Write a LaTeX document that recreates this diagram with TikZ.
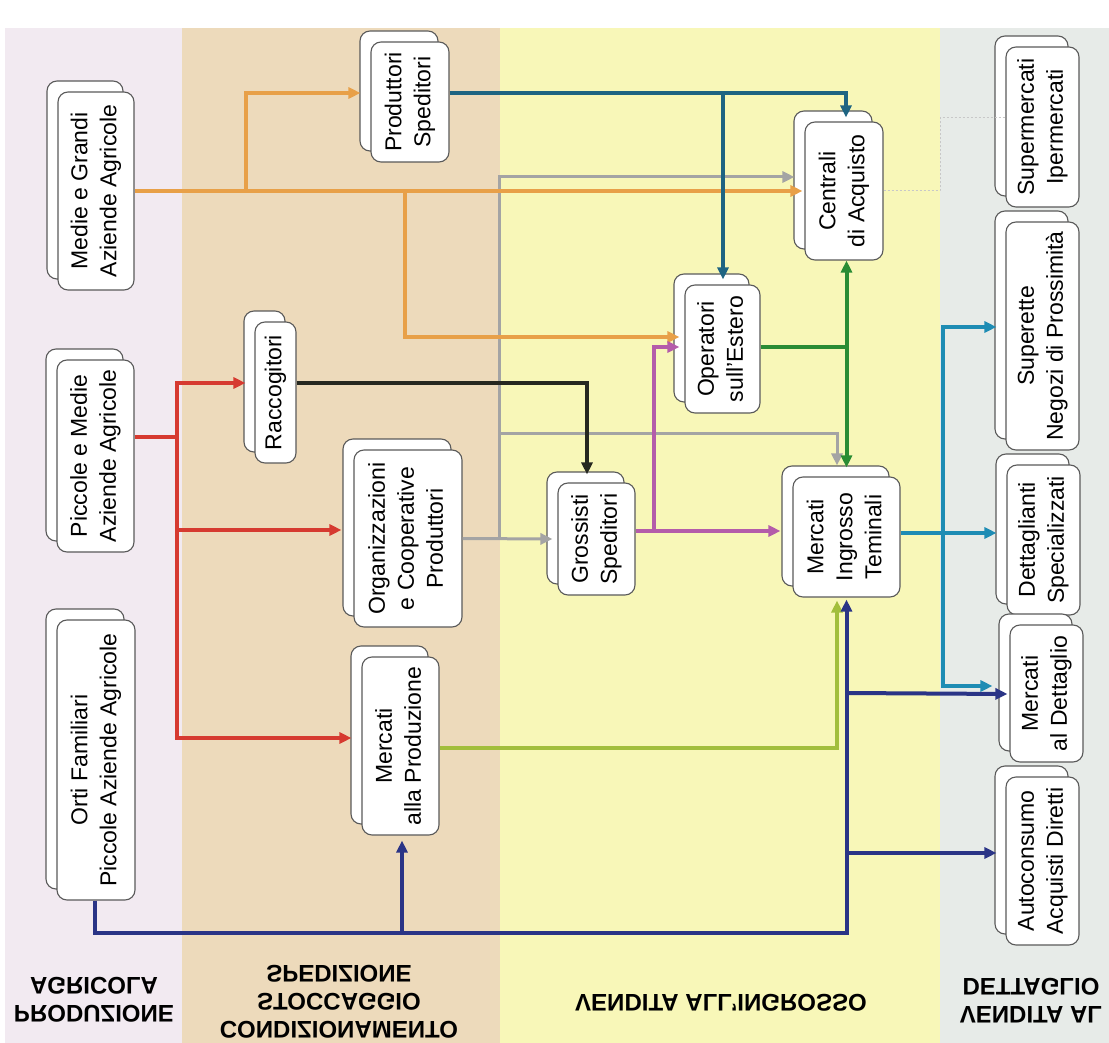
\documentclass[tikz,border=0pt]{standalone}
\usepackage{fontspec}
\setmainfont{Liberation Sans}
\usepackage{graphicx}
\usetikzlibrary{arrows.meta,shadows}

\definecolor{bandpink}{HTML}{F2EAF1}
\definecolor{bandtan}{HTML}{EDDABB}
\definecolor{bandyellow}{HTML}{F8F7B8}
\definecolor{bandgray}{HTML}{E7EBE8}
\definecolor{boxline}{HTML}{5A5A5A}
\definecolor{corange}{HTML}{E8A048}
\definecolor{cred}{HTML}{D63A30}
\definecolor{cblack}{HTML}{262820}
\definecolor{cgray}{HTML}{A4A4A4}
\definecolor{cteal}{HTML}{1E6482}
\definecolor{cgreen}{HTML}{2A8C34}
\definecolor{cpurple}{HTML}{B45CAA}
\definecolor{cnavy}{HTML}{2A3486}
\definecolor{cyg}{HTML}{A2BE3C}
\definecolor{clteal}{HTML}{1E8CB4}

\newcommand{\rottext}[1]{\rotatebox{90}{\begin{tabular}{@{}c@{}}#1\end{tabular}}}
\newcommand{\fliptext}[1]{\scalebox{1}[-1]{\begin{tabular}{@{}c@{}}#1\end{tabular}}}

\begin{document}
\begin{tikzpicture}[x=1pt, y=-1pt,
  stackbox/.style={draw=boxline, line width=1.1pt, fill=white, rounded corners=10pt,
    inner sep=0pt, font=\fontsize{23}{29}\selectfont,
    general shadow={shadow xshift=-11pt, shadow yshift=11pt, fill=white, draw=boxline, line width=1.1pt}},
  hdr/.style={inner sep=0pt, font=\bfseries\fontsize{24}{28}\selectfont},
  wire/.style={line width=4pt, draw=#1},
  flow/.style={line width=4pt, draw=#1, -{Triangle[length=12pt,width=11pt]}},
  faint/.style={draw=cgray!60, line width=1pt, dash pattern=on 2pt off 2pt}
]
\useasboundingbox (0,0) rectangle (1109,1043);
\fill[white] (0,0) rectangle (1109,1043);
\fill[bandpink] (5,28) rectangle (182,1043);
\fill[bandtan] (182,28) rectangle (500,1043);
\fill[bandyellow] (500,28) rectangle (940,1043);
\fill[bandgray] (940,28) rectangle (1109,1043);

% headers (vertically mirrored, as printed)
\node[hdr] (hprod) at (94,997) {\fliptext{PRODUZIONE\\AGRICOLA}};
\node[hdr] (hcond) at (339,999) {\fliptext{CONDIZIONAMENTO\\STOCCAGGIO\\SPEDIZIONE}};
\node[hdr] (hingr) at (721,1000) {\fliptext{VENDITA ALL'INGROSSO}};
\node[hdr] (hdett) at (1031,998) {\fliptext{VENDITA AL\\DETTAGLIO}};

% boxes
\node[stackbox, minimum width=76pt, minimum height=198pt] (medie) at (96,191) {\rottext{Medie e Grandi\\Aziende Agricole}};
\node[stackbox, minimum width=77pt, minimum height=192pt] (piccole) at (95.5,456) {\rottext{Piccole e Medie\\Aziende Agricole}};
\node[stackbox, minimum width=78pt, minimum height=280pt] (orti) at (96,760) {\rottext{Orti Familiari\\Piccole Aziende Agricole}};

\node[stackbox, minimum width=78pt, minimum height=120pt] (prod) at (410,102) {\rottext{Produttori\\Speditori}};
\node[stackbox, minimum width=41pt, minimum height=141pt] (racc) at (275.5,392.5) {\rottext{Raccogitori}};
\node[stackbox, minimum width=108pt, minimum height=177pt] (org) at (408,538.5) {\rottext{Organizzazioni\\e Cooperative\\Produttori}};
\node[stackbox, minimum width=77pt, minimum height=178pt] (mprod) at (400.5,746) {\rottext{Mercati\\alla Produzione}};

\node[stackbox, minimum width=77pt, minimum height=112pt] (gross) at (596.5,539) {\rottext{Grossisti\\Speditori}};
\node[stackbox, minimum width=75pt, minimum height=128pt] (oper) at (722.5,349) {\rottext{Operatori\\sull'Estero}};
\node[stackbox, minimum width=78pt, minimum height=138pt] (centr) at (844,191) {\rottext{Centrali\\di Acquisto}};
\node[stackbox, minimum width=107pt, minimum height=120pt] (mingr) at (846.5,537) {\rottext{Mercati\\Ingrosso\\Teminali}};

\node[stackbox, minimum width=73pt, minimum height=160pt] (super) at (1042.5,127) {\rottext{Supermercati\\Ipermercati}};
\node[stackbox, minimum width=73pt, minimum height=228pt] (superette) at (1042.5,336) {\rottext{Superette\\Negozi di Prossimità}};
\node[stackbox, minimum width=73pt, minimum height=150pt] (dett) at (1043.5,540) {\rottext{Dettaglianti\\Specializzati}};
\node[stackbox, minimum width=73pt, minimum height=137pt] (mdett) at (1046.5,693.5) {\rottext{Mercati\\al Dettaglio}};
\node[stackbox, minimum width=73pt, minimum height=168pt] (auto) at (1042.5,861) {\rottext{Autoconsumo\\Acquisti Diretti}};

% junction coordinates
\coordinate (oj1) at (246,191);
\coordinate (oj2) at (405,191);
\coordinate (rj) at (177,437);
\coordinate (gj) at (499,538.5);
\coordinate (gj2) at (499,433);
\coordinate (pj) at (654,531);
\coordinate (tj) at (723,93);
\coordinate (gnj) at (846.5,347);
\coordinate (nvc) at (846.5,933);
\coordinate (nvb) at (402,933);
\coordinate (nv1) at (846.5,693);
\coordinate (nv2) at (846.5,853);
\coordinate (tlj) at (943,533);
\coordinate (fdj) at (940,191);

% faint dotted link
\draw[faint] (centr.east) -- (fdj) |- ([yshift=9pt]super.west);

% gray
\draw[flow=cgray, line width=3pt] (org.east) -- ([xshift=-5pt]gross.west);
\draw[flow=cgray, line width=3pt] (gj) |- ([xshift=-10pt,yshift=14pt]centr.west);
\draw[flow=cgray, line width=3pt] (gj2) -| ([xshift=-9.5pt,yshift=11pt]mingr.north);

% orange
\draw[flow=corange] (medie.east) -- ([xshift=-2pt]centr.west);
\draw[flow=corange] (oj1) |- ([xshift=-10pt,yshift=9pt]prod.west);
\draw[flow=corange] (oj2) |- ([xshift=-5pt,yshift=12pt]oper.west);

% red
\draw[wire=cred] ([yshift=19pt]piccole.east) -- (rj);
\draw[flow=cred] (rj) |- ([xshift=-9pt,yshift=9.5pt]racc.west);
\draw[flow=cred] (rj) |- ([xshift=-12pt,yshift=8.5pt]org.west);
\draw[flow=cred] (rj) |- ([xshift=-10pt,yshift=8pt]mprod.west);

% black
\draw[flow=cblack] ([yshift=9.5pt]racc.east) -| ([xshift=-9.5pt,yshift=8pt]gross.north);

% purple
\draw[flow=cpurple] ([yshift=8pt]gross.east) -- ([xshift=-12pt,yshift=6pt]mingr.west);
\draw[flow=cpurple] (pj) |- ([xshift=-5pt,yshift=2pt]oper.west);

% dark teal
\draw[flow=cteal] ([yshift=9pt]prod.east) -| ([xshift=2pt,yshift=4pt]centr.north);
\draw[flow=cteal] (tj) -- ([xshift=0.5pt,yshift=5pt]oper.north);

% green
\draw[wire=cgreen] ([yshift=2pt]oper.east) -- (gnj);
\draw[wire=cgreen, {Triangle[length=12pt,width=11pt]}-{Triangle[length=12pt,width=11pt]}] (centr.south -| mingr.north) -- ([yshift=9pt]mingr.north);

% yellow-green
\draw[flow=cyg] ([yshift=-2pt]mprod.east) -| ([xshift=-9.5pt,yshift=-3pt]mingr.south);

% navy
\draw[flow=cnavy] ([xshift=-1pt]orti.south) |- (nvc) -- ([yshift=-2pt]mingr.south);
\draw[flow=cnavy] (nvb) -- ([xshift=1.5pt,yshift=-5pt]mprod.south);
\draw[flow=cnavy] (nv1) -- ([xshift=-2pt,yshift=-0.5pt]mdett.west);
\draw[flow=cnavy] (nv2) -- ([xshift=-9pt,yshift=8pt]auto.west);

% light teal
\draw[flow=clteal] ([yshift=4pt]mingr.east) -- ([xshift=-10pt,yshift=7pt]dett.west);
\draw[flow=clteal] (tlj) |- ([xshift=-9pt,yshift=9pt]superette.west);
\draw[flow=clteal] (tlj) |- ([xshift=-17pt,yshift=7.5pt]mdett.west);
\end{tikzpicture}
\end{document}
